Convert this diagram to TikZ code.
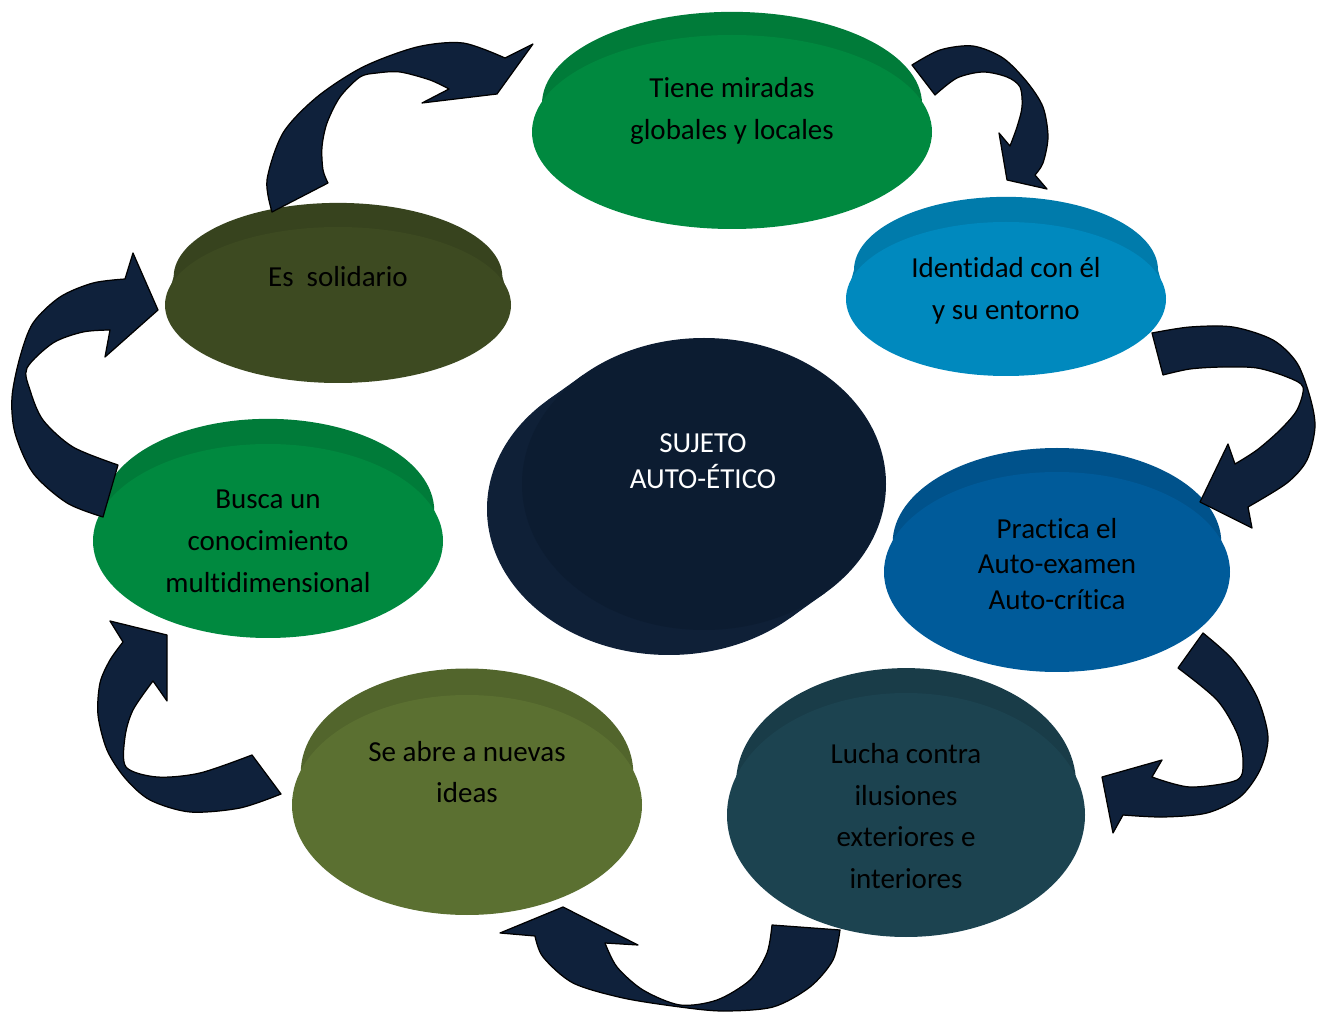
\documentclass[tikz,border=0pt]{standalone}
\usepackage{fontspec}
\setmainfont{Carlito}[Ligatures={NoCommon,NoContextual}]
\definecolor{grnA}{HTML}{00893F}
\definecolor{bluL}{HTML}{0089BE}
\definecolor{bluM}{HTML}{005B9A}
\definecolor{tealD}{HTML}{1C4350}
\definecolor{oliveL}{HTML}{5B7031}
\definecolor{oliveD}{HTML}{3D4A21}
\definecolor{navyF}{HTML}{0C1C31}
\definecolor{navyS}{HTML}{0F2037}
\definecolor{arrownavy}{HTML}{0F213B}
% keep "t" and "i" as separate glyphs
\newcommand\tiSep{t\kern0pt i}
% raised disc: cx, cy, rx, ry, rim height, colour
\newcommand\rimdisc[6]{%
  \fill[#6!90!black] (#1-0.95*#3,#2-#5) -- (#1+0.95*#3,#2-#5) -- (#1+#3,#2) -- (#1-#3,#2) -- cycle;
  \fill[#6!90!black] (#1,#2-#5) ellipse [x radius=0.95*#3, y radius=0.95*#4];
  \fill[#6] (#1,#2) ellipse [x radius=#3, y radius=#4];}
\begin{document}
\begin{tikzpicture}[x=0.02cm,y=-0.02cm,
  lbl/.style={font=\fontsize{16.5}{23.8}\selectfont, text=black, align=center, inner sep=0pt},
  curvedarrow/.style={fill=arrownavy, draw=black, line width=0.7pt, line join=round}]
\useasboundingbox (0,0) rectangle (1320,1013);

% outer discs
\rimdisc{732}{132}{200}{97}{28}{grnA}
\rimdisc{1006}{299}{160}{77}{29}{bluL}
\rimdisc{1057}{572}{173}{100}{29}{bluM}
\rimdisc{906}{815}{179}{122}{31}{tealD}
\rimdisc{467}{805}{175}{110}{32}{oliveL}
\rimdisc{268}{541}{175}{97}{30}{grnA}
\rimdisc{338}{305}{173}{78}{28}{oliveD}

% central extruded disc
\fill[navyS] (583,375) -- (548,400) -- (790,618) -- (825,593) -- cycle;
\fill[navyS] (669,509) ellipse [x radius=182, y radius=146];
\fill[navyF] (704,484) ellipse [x radius=182, y radius=146];

% labels
\node[lbl] (t1) at (732,111) {Tiene miradas\\globales y locales};
\node[lbl] (t2) at (1006,291) {Iden\tiSep dad con él\\y su entorno};
\node[lbl, font=\fontsize{16.5}{20.2}\selectfont] (t3) at (1057,564) {Prac\tiSep ca el\\Auto-examen\\Auto-crí\tiSep ca};
\node[lbl] (t4) at (906,816) {Lucha contra\\ilusiones\\exteriores e\\interiores};
\node[lbl] (t5) at (467,772) {Se abre a nuevas\\ideas};
\node[lbl] (t6) at (268,541) {Busca un\\conocimiento\\mul\tiSep dimensional};
\node[lbl] (t7) at (338,277) {Es\ \ solidario};
\node[lbl, text=white, font=\fontsize{16.5}{20.4}\selectfont] (t0) at (703,461) {SUJETO\\AUTO-ÉTICO};

% curved block arrows running clockwise round the ring
\path[curvedarrow] plot[smooth] coordinates {(272,212) (267,180) (283,133) (317,97) (363,67) (417,47) (463,43) (505,58)}
  -- (533,44) -- (497,94) -- (422,103) -- (449,89)
  -- plot[smooth] coordinates {(449,89) (430,80) (400,72) (377,73) (360,77) (340,97) (327,123) (322,147) (323,170) (328,183)} -- cycle;

\path[curvedarrow] plot[smooth] coordinates {(912,65) (940,50) (973,46) (1003,58) (1027,82) (1043,107) (1048,137) (1043,163) (1035,175)}
  -- (1047,189) -- (1007,180) -- (999,133) -- (1010,146)
  -- plot[smooth] coordinates {(1010,146) (1017,127) (1022,107) (1020,87) (1007,77) (983,72) (957,78) (935,95)} -- cycle;

\path[curvedarrow] plot[smooth] coordinates {(1152,333) (1190,327) (1233,327) (1273,340) (1297,363) (1310,397) (1315,427) (1307,460) (1287,483) (1248,507)}
  -- (1252,528) -- (1200,502) -- (1228,444) -- (1235,464)
  -- plot[smooth] coordinates {(1235,464) (1257,450) (1280,430) (1297,410) (1303,387) (1287,377) (1257,368) (1223,367) (1190,369) (1163,375)} -- cycle;

\path[curvedarrow] plot[smooth] coordinates {(1203,633) (1233,660) (1257,697) (1268,737) (1260,770) (1240,797) (1207,813) (1163,817) (1123,815)}
  -- (1113,833) -- (1102,777) -- (1162,760) -- (1152,777)
  -- plot[smooth] coordinates {(1152,777) (1190,787) (1237,780) (1243,760) (1237,733) (1217,700) (1178,668)} -- cycle;

\path[curvedarrow] plot[smooth] coordinates {(840,930) (833,960) (810,987) (773,1007) (723,1011) (680,1007) (623,998) (573,983) (543,957) (535,936)}
  -- (500,933) -- (563,907) -- (638,945) -- (605,943)
  -- plot[smooth] coordinates {(605,943) (617,967) (643,990) (680,1005) (717,1000) (750,980) (767,953) (772,925)} -- cycle;

\path[curvedarrow] plot[smooth] coordinates {(281,794) (240,808) (190,812) (150,800) (125,778) (107,750) (98,715) (100,683) (110,660) (123,642)}
  -- (110,621) -- (167,635) -- (167,701) -- (153,681)
  -- plot[smooth] coordinates {(153,681) (133,710) (125,737) (126,767) (157,777) (200,773) (252,755)} -- cycle;

\path[curvedarrow] plot[smooth] coordinates {(103,517) (67,503) (33,473) (15,433) (12,397) (20,357) (33,323) (60,297) (93,283) (125,279)}
  -- (133,253) -- (158,310) -- (105,357) -- (110,330)
  -- plot[smooth] coordinates {(110,330) (83,332) (53,343) (27,368) (30,390) (43,420) (73,447) (118,465)} -- cycle;
\end{tikzpicture}
\end{document}
